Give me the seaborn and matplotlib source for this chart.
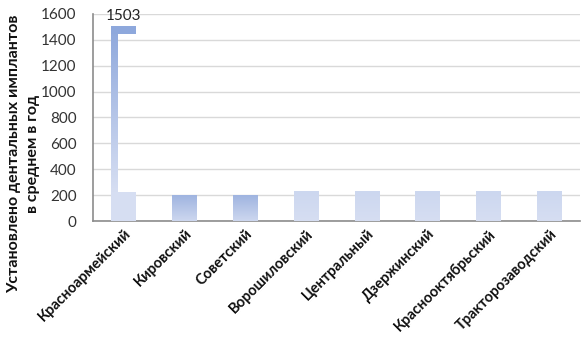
import numpy as np
import pandas as pd
import seaborn as sns
from matplotlib import pyplot as plt
from matplotlib.colors import LinearSegmentedColormap
from matplotlib.patches import Rectangle

# data
districts = ['Красноармейский', 'Кировский', 'Советский', 'Ворошиловский',
             'Центральный', 'Дзержинский', 'Краснооктябрьский', 'Тракторозаводский']
implants = [1503, 195, 195, 230, 230, 230, 230, 230]
# lower light part of the first (broken) bar
base_fill = [228, 0, 0, 0, 0, 0, 0, 0]
top_colors = ['#8ea8dc', '#9fb4e0', '#9fb4e0', '#ccd7ef', '#ccd7ef', '#ccd7ef', '#ccd7ef', '#ccd7ef']
bottom_colors = ['#d6def2', '#cdd7ef', '#cdd7ef', '#d6def2', '#d6def2', '#d6def2', '#d6def2', '#d6def2']
yticks = [0, 200, 400, 600, 800, 1000, 1200, 1400, 1600]

df = pd.DataFrame({'district': districts, 'n': implants})

sns.set_style('white')
plt.rcParams['font.family'] = ['Lato', 'DejaVu Sans']

fig = plt.figure(figsize=(5.86, 3.47), dpi=100)
ax = fig.add_axes([0.159, 0.363, 0.831, 0.597])
sns.barplot(data=df, x='district', y='n', color='#ccd7ef', width=0.41, ax=ax, zorder=3)
ax.set_ylim(0, 1600)
ax.set_xlim(-0.5, len(districts) - 0.5)


def grad_fill(ax, x0, x1, y0, y1, c_top, c_bot):
    cmap = LinearSegmentedColormap.from_list('g', [c_bot, c_top])
    img = np.linspace(0, 1, 64).reshape(-1, 1)
    ax.imshow(img, cmap=cmap, aspect='auto', origin='lower',
              extent=[x0, x1, y0, y1], zorder=3, interpolation='bicubic')


bars = list(ax.patches)
for i, p in enumerate(bars):
    x0, w, h = p.get_x(), p.get_width(), p.get_height()
    p.set_visible(False)
    if base_fill[i] > 0:
        # the first bar comes out as a frame: light base, thin left strip and a cap
        ax.add_patch(Rectangle((x0, 0), w, base_fill[i], color=bottom_colors[i], lw=0, zorder=3))
        grad_fill(ax, x0, x0 + w * 0.25, base_fill[i], h, top_colors[i], bottom_colors[i])
        ax.add_patch(Rectangle((x0, h - 55), w, 55, color=top_colors[i], lw=0, zorder=4))
        ax.text(x0 + w / 2, h + 25, str(implants[i]), ha='center', va='bottom',
                fontsize=11, color='#222222', clip_on=False)
    else:
        grad_fill(ax, x0, x0 + w, 0, h, top_colors[i], bottom_colors[i])

ax.set_ylim(0, 1600)
ax.set_xlim(-0.5, len(districts) - 0.5)
ax.set_yticks(yticks)
ax.set_yticklabels([str(v) for v in yticks], fontsize=11, color='#333333')
ax.yaxis.grid(True, color='#d9d9d9', lw=1, zorder=0)
ax.set_axisbelow(True)
ax.tick_params(axis='y', length=0, pad=12)
ax.tick_params(axis='x', length=0, pad=4)
ax.set_xticks(range(len(districts)))
ax.set_xticklabels(districts, rotation=45, ha='right', rotation_mode='anchor',
                   fontsize=10.5, fontweight='bold', color='#111111')
ax.set_xlabel('')
ax.set_ylabel('')
fig.text(0.04, 0.556, 'Установлено дентальных имплантов\nв среднем в год', rotation=90,
         ha='center', va='center', multialignment='center', fontsize=11.5,
         fontweight='bold', color='#111111', linespacing=1.45)
sns.despine(ax=ax, top=True, right=True)
for s in ['left', 'bottom']:
    ax.spines[s].set_color('#8c8c8c')
    ax.spines[s].set_linewidth(1.2)

plt.savefig('out.png', dpi=100)
plt.close()
